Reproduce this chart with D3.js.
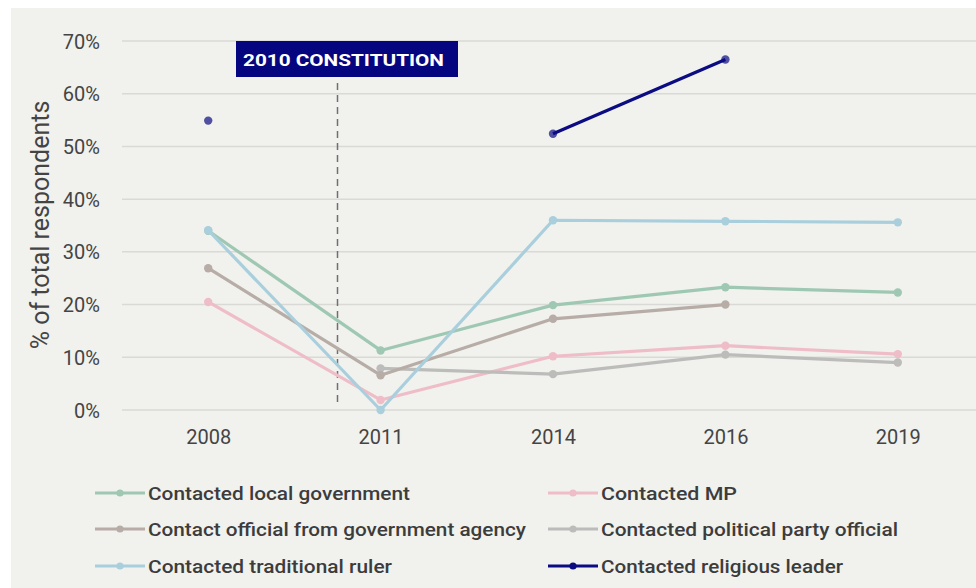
<!DOCTYPE html>
<html>
<head>
<meta charset="utf-8">
<script src="https://cdn.jsdelivr.net/npm/d3@7"></script>
<style>
  html, body { margin: 0; padding: 0; background: #ffffff; }
  svg { display: block; }
  text { font-family: Roboto, "Noto Sans", sans-serif; }
</style>
</head>
<body>
<svg id="chart" width="976" height="588"></svg>
<script>
// Survey years on the x axis
const years = ["2008", "2011", "2014", "2016", "2019"];

// Share of respondents (%) per year; null where the survey has no value
const localGovernment   = [34.0, 11.3, 19.9, 23.3, 22.3];
const contactedMP       = [20.5, 1.9, 10.2, 12.2, 10.6];
const governmentAgency  = [26.9, 6.6, 17.3, 20.0, null];
const partyOfficial     = [null, 7.9, 6.8, 10.5, 9.0];
const traditionalRuler  = [34.1, 0.0, 36.0, 35.8, 35.6];
const religiousLeader   = [54.9, null, 52.4, 66.5, null];

const seriesNames = [
  "Contacted local government",
  "Contacted MP",
  "Contact official from government agency",
  "Contacted political party official",
  "Contacted traditional ruler",
  "Contacted religious leader"
];

const yTicks = [0, 10, 20, 30, 40, 50, 60, 70];
const eventLabel = "2010 CONSTITUTION";
const eventPosition = 1.75; // between 2008 and 2011 on the category axis

const seriesValues = [localGovernment, contactedMP, governmentAgency, partyOfficial, traditionalRuler, religiousLeader];
const colors = ["#9fc8b3", "#efbdc7", "#b7ada6", "#bcbcba", "#a9cfdd", "#0b0b82"];
// Stacking order: religious leader on top, traditional ruler above the rest
const drawOrder = [1, 3, 2, 0, 4, 5];

const svg = d3.select("#chart");
const W = 976, H = 588;

// panel background
svg.append("rect").attr("x", 11).attr("y", 8).attr("width", W - 11).attr("height", H - 8).attr("fill", "#f1f1ee");

const margin = { left: 122, right: -8 };
const x = d3.scalePoint().domain(years).range([margin.left, W - margin.right]).padding(0.5);
const y = d3.scaleLinear().domain([0, 70]).range([410, 41]);

// gridlines
svg.append("g").selectAll("line").data(yTicks).join("line")
  .attr("x1", margin.left).attr("x2", W)
  .attr("y1", d => y(d)).attr("y2", d => y(d))
  .attr("stroke", "#d9d9d6").attr("stroke-width", 1.5);

// y axis labels
const yAxis = d3.axisLeft(y).tickValues(yTicks).tickFormat(d => d + "%").tickSize(0).tickPadding(22);
const gy = svg.append("g").attr("transform", `translate(${margin.left},0)`).call(yAxis);
gy.select(".domain").remove();
gy.selectAll("text").attr("font-size", 20).attr("fill", "#444444").attr("dy", "0.35em")
  .style("font-family", "Roboto, sans-serif");

// x axis labels
const xAxis = d3.axisBottom(x).tickSize(0).tickPadding(20);
const gx = svg.append("g").attr("transform", `translate(0,${y(0)})`).call(xAxis);
gx.select(".domain").remove();
gx.selectAll("text").attr("font-size", 20).attr("fill", "#444444")
  .style("font-family", "Roboto, sans-serif");

// y axis title
svg.append("text")
  .attr("transform", `translate(49,225) rotate(-90)`)
  .attr("text-anchor", "middle")
  .attr("font-size", 25).attr("fill", "#444444")
  .text("% of total respondents");

// event marker: dashed vertical line with boxed label
const step = x.step();
const eventX = x(years[0]) + (eventPosition - 1) * step;
svg.append("line")
  .attr("x1", eventX).attr("x2", eventX)
  .attr("y1", 83).attr("y2", 405)
  .attr("stroke", "#707070").attr("stroke-width", 1.5)
  .attr("stroke-dasharray", "7,5");
const labelG = svg.append("g");
labelG.append("rect").attr("x", 236).attr("y", 41).attr("width", 222).attr("height", 36).attr("fill", "#050580");
labelG.append("text").attr("x", 243).attr("y", 66)
  .attr("font-size", 17).attr("font-weight", 700).attr("fill", "#ffffff")
  .attr("textLength", 201).attr("lengthAdjust", "spacingAndGlyphs")
  .text(eventLabel);

// series lines and markers
const line = d3.line()
  .defined(d => d.v !== null)
  .x(d => x(d.year))
  .y(d => y(d.v));

drawOrder.forEach(i => {
  const pts = years.map((yr, j) => ({ year: yr, v: seriesValues[i][j] }));
  const g = svg.append("g");
  g.append("path").datum(pts)
    .attr("d", line)
    .attr("fill", "none")
    .attr("stroke", colors[i])
    .attr("stroke-width", 3.2)
    .attr("stroke-linejoin", "round");
  g.selectAll("circle").data(pts.filter(d => d.v !== null)).join("circle")
    .attr("cx", d => x(d.year)).attr("cy", d => y(d.v))
    .attr("r", 4.2)
    .attr("fill", colors[i])
    .attr("fill-opacity", i === 5 ? 0.7 : 1);
});

// legend
const legendCols = [95, 548];
const legendRows = [493, 529, 566];
const legendWidths = [262, 136, 378, 297, 244, 242];
seriesNames.forEach((name, i) => {
  const lx = legendCols[i % 2];
  const ly = legendRows[Math.floor(i / 2)];
  const g = svg.append("g");
  g.append("line").attr("x1", lx).attr("x2", lx + 50).attr("y1", ly).attr("y2", ly)
    .attr("stroke", colors[i]).attr("stroke-width", 3.2);
  g.append("circle").attr("cx", lx + 25).attr("cy", ly).attr("r", 3.6).attr("fill", colors[i]);
  g.append("text").attr("x", lx + 53).attr("y", ly + 7)
    .attr("font-size", 19).attr("font-weight", 500).attr("fill", "#3c3c3c")
    .attr("textLength", legendWidths[i]).attr("lengthAdjust", "spacingAndGlyphs")
    .text(name);
});
</script>
</body>
</html>
